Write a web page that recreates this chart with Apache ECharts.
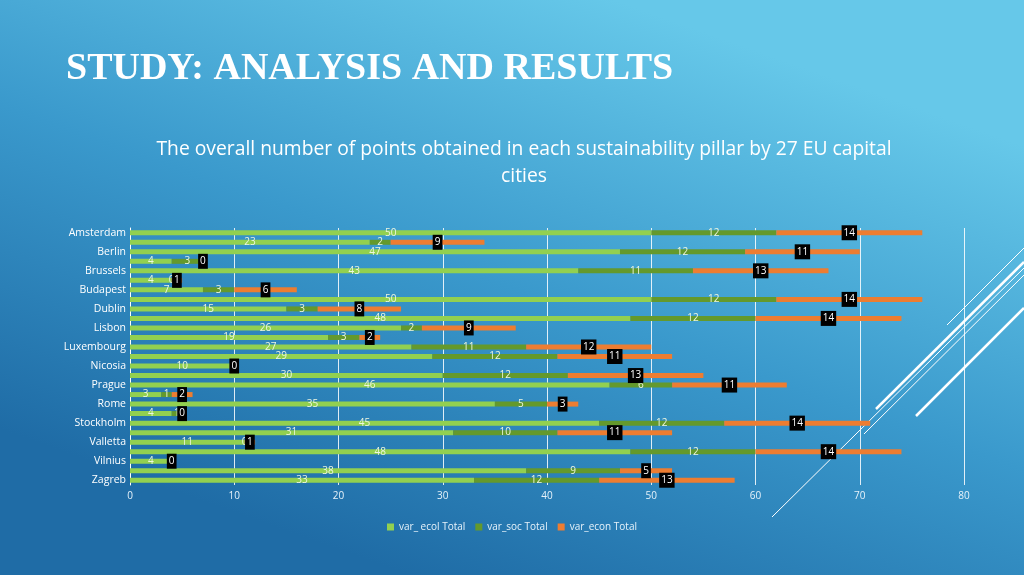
<!DOCTYPE html>
<html><head><meta charset="utf-8">
<script src="https://cdn.jsdelivr.net/npm/echarts@6/dist/echarts.min.js"></script>
<style>html,body{margin:0;padding:0;width:1024px;height:575px;overflow:hidden;}#c{width:1024px;height:575px;}</style>
</head><body><div id="c"></div>
<script>
const cities = ['Amsterdam','Athens','Berlin','Bratislava','Brussels','Bucharest','Budapest','Copenhagen','Dublin','Helsinki','Lisbon','Ljubljana','Luxembourg','Madrid','Nicosia','Paris','Prague','Riga','Rome','Sofia','Stockholm','Tallinn','Valletta','Vienna','Vilnius','Warsaw','Zagreb'];
const ecol = [50,23,47,4,43,4,7,50,15,48,26,19,27,29,10,30,46,3,35,4,45,31,11,48,4,38,33];
const soc  = [12,2,12,3,11,0,3,12,3,12,2,3,11,12,0,12,6,1,5,1,12,10,0,12,0,9,12];
const econ = [14,9,11,0,13,1,6,14,8,14,9,2,12,11,0,13,11,2,3,0,14,11,1,14,0,5,13];
const seriesNames = ['var_ ecol Total','var_soc Total','var_econ Total'];

const chart = echarts.init(document.getElementById('c'));
const lbl = (color, extra) => Object.assign({show:true, position:'inside', color:color, fontSize:10, fontFamily:'Open Sans'}, extra||{});
chart.setOption({
  backgroundColor: {type:'linear', x:0.4, y:1, x2:0.6, y2:0, colorStops:[{offset:0,color:'#1f6ca6'},{offset:0.5,color:'#3a99cc'},{offset:1,color:'#66c8e9'}]},
  title: [
    {text:'STUDY: ANALYSIS AND RESULTS', left:61, top:45, textStyle:{color:'#ffffff', fontFamily:'Liberation Serif', fontWeight:'bold', fontSize:38}},
    {text:'The overall number of points obtained in each sustainability pillar by 27 EU capital\ncities', left:519, textAlign:'center', top:131, textStyle:{color:'#ffffff', fontFamily:'Open Sans', fontWeight:'normal', fontSize:19.3, lineHeight:27}}
  ],
  legend: {bottom:38, left:'center', itemWidth:7, itemHeight:7, itemGap:10, icon:'rect', textStyle:{color:'#e6f2fa', fontSize:10, fontFamily:'Open Sans'}, data:seriesNames},
  grid: {left:130, right:60, top:228, bottom:90, containLabel:false},
  xAxis: {type:'value', min:0, max:80, interval:10,
    axisLine:{show:false}, axisTick:{show:false},
    axisLabel:{color:'#e6f2fa', fontSize:10, fontFamily:'Open Sans', margin:6},
    splitLine:{show:true, lineStyle:{color:'rgba(255,255,255,0.85)', width:1}}},
  yAxis: {type:'category', data:cities, inverse:true,
    axisLine:{show:true, lineStyle:{color:'#ffffff', width:1}}, axisTick:{show:false},
    axisLabel:{interval:1, color:'#ffffff', fontSize:10.5, fontFamily:'Open Sans', margin:4}},
  series: [
    {name:seriesNames[0], type:'bar', stack:'t', data:ecol, barWidth:5, itemStyle:{color:'#92d050'}, label:lbl('#eef7e0')},
    {name:seriesNames[1], type:'bar', stack:'t', data:soc, barWidth:5, itemStyle:{color:'#64992c'}, label:lbl('#eef7e0')},
    {name:seriesNames[2], type:'bar', stack:'t', data:econ, barWidth:5, itemStyle:{color:'#ed7d31'}, label:lbl('#ffffff',{backgroundColor:'#000000', padding:[3,2,2,2]})}
  ],
  graphic: [
    {type:'line', silent:true, shape:{x1:947,y1:325,x2:1024,y2:248}, style:{stroke:'#ffffff', lineWidth:1}},
    {type:'line', silent:true, shape:{x1:876,y1:409,x2:1024,y2:262}, style:{stroke:'#ffffff', lineWidth:2.5}},
    {type:'line', silent:true, shape:{x1:864,y1:434,x2:1024,y2:275}, style:{stroke:'#ffffff', lineWidth:1}},
    {type:'line', silent:true, shape:{x1:772,y1:517,x2:1024,y2:268}, style:{stroke:'#ffffff', lineWidth:1}},
    {type:'line', silent:true, shape:{x1:916,y1:416,x2:1024,y2:308}, style:{stroke:'#ffffff', lineWidth:2.5}}
  ]
});
</script></body></html>
